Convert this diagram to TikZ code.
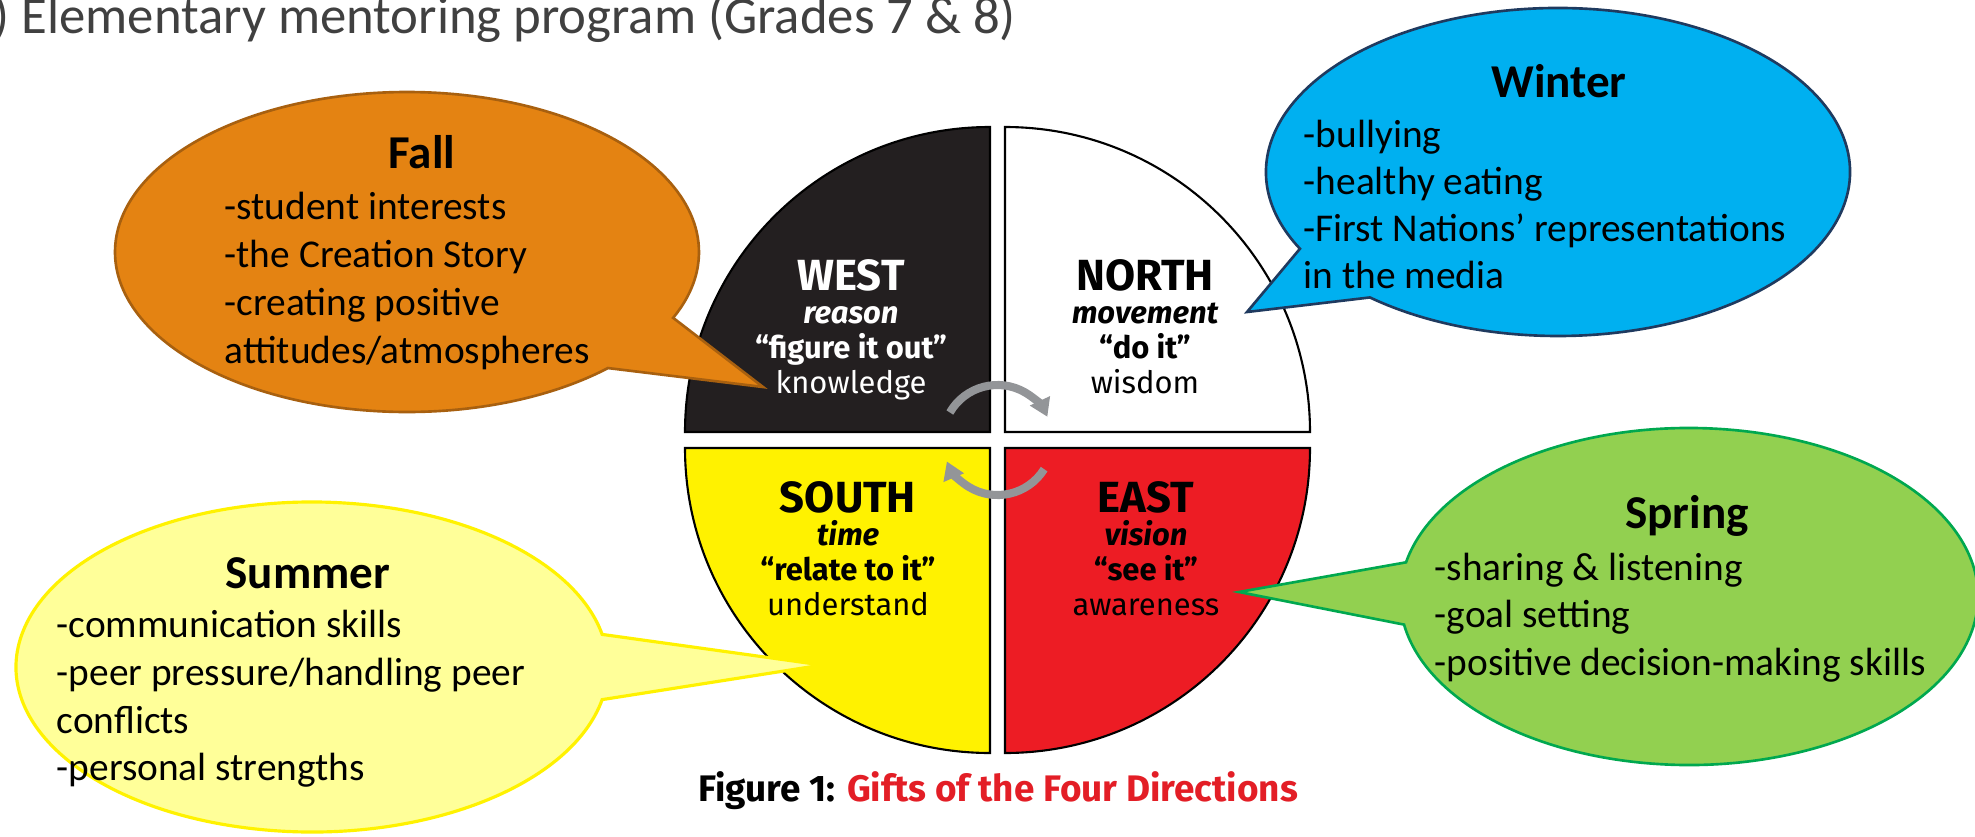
\documentclass[tikz,border=0pt]{standalone}
\usepackage{fontspec}
\setmainfont{Carlito}
\newfontfamily\qfont{Fira Sans}
\usetikzlibrary{arrows.meta}
\definecolor{fallfill}{HTML}{E48312}
\definecolor{falldraw}{HTML}{A8600F}
\definecolor{winfill}{HTML}{00B0F0}
\definecolor{windraw}{HTML}{1F3A5F}
\definecolor{sprfill}{HTML}{92D050}
\definecolor{sprdraw}{HTML}{00A84F}
\definecolor{sumfill}{HTML}{FFFF99}
\definecolor{sumdraw}{HTML}{FFF200}
\definecolor{qblack}{HTML}{231F20}
\definecolor{qred}{HTML}{ED1C24}
\definecolor{qyellow}{HTML}{FFF200}
\definecolor{arrowgray}{HTML}{939598}
\definecolor{titlegray}{HTML}{404040}
\definecolor{capred}{HTML}{E31E26}
\begin{document}
\begin{tikzpicture}[x=0.01cm, y=-0.01cm,
  quad/.style={draw=black, line width=0.6pt},
  bubble/.style={line width=0.75pt},
  body/.style={anchor=base west, inner sep=0pt, font=\fontsize{11.2}{13.5}\selectfont},
  head/.style={anchor=base, inner sep=0pt, font=\bfseries\fontsize{13.4}{16}\selectfont},
  qbig/.style={anchor=base, inner sep=0pt, font=\qfont\bfseries\fontsize{12.4}{14}\selectfont},
  qit/.style={anchor=base, inner sep=0pt, font=\qfont\bfseries\itshape\fontsize{8.8}{10}\selectfont},
  qquote/.style={anchor=base, inner sep=0pt, font=\qfont\bfseries\fontsize{8.8}{10}\selectfont},
  qreg/.style={anchor=base, inner sep=0pt, font=\qfont\fontsize{8.8}{10}\selectfont},
  garrow/.style={draw=arrowgray, line width=2.3pt, -{Triangle[width=6pt,length=5pt]}}
]
\fill[white] (0,0) rectangle (1975,836);
\useasboundingbox (0,0) rectangle (1975,836);

% title
\node[anchor=base west, inner sep=0pt, text=titlegray, font=\fontsize{15}{18}\selectfont] (title) at (-7,33) {) Elementary mentoring program (Grades 7 \& 8)};

% medicine wheel quadrants
\path[quad, fill=qblack] (990,432) -- ++(-305,0) arc[start angle=180, end angle=270, radius=305] -- cycle;
\path[quad, fill=white] (1005,432) -- ++(0,-305) arc[start angle=270, end angle=360, radius=305] -- cycle;
\path[quad, fill=qyellow] (990,448) -- ++(0,305) arc[start angle=90, end angle=180, radius=305] -- cycle;
\path[quad, fill=qred] (1005,448) -- ++(305,0) arc[start angle=0, end angle=90, radius=305] -- cycle;

% quadrant texts
\node[qbig, text=white] (west) at (851,290) {WEST};
\node[qit, text=white] (westa) at (851,323) {reason};
\node[qquote, text=white] (westb) at (851,358) {“figure it out”};
\node[qreg, text=white] (westc) at (851,393) {knowledge};

\node[qbig, text=black] (north) at (1145,290) {NORTH};
\node[qit, text=black] (northa) at (1145,323) {movement};
\node[qquote, text=black] (northb) at (1145,358) {“do it”};
\node[qreg, text=black] (northc) at (1145,393) {wisdom};

\node[qbig, text=black] (south) at (848,512) {SOUTH};
\node[qit, text=black] (southa) at (848,545) {time};
\node[qquote, text=black] (southb) at (848,580) {“relate to it”};
\node[qreg, text=black] (southc) at (848,615) {understand};

\node[qbig, text=black] (east) at (1146,512) {EAST};
\node[qit, text=black] (easta) at (1146,545) {vision};
\node[qquote, text=black] (eastb) at (1146,580) {“see it”};
\node[qreg, text=black] (eastc) at (1146,615) {awareness};

% rotation arrows
\coordinate (ctr) at (997.5,440);
\draw[garrow] ([shift={(-150:55)}]ctr) arc[start angle=-150, end angle=-25, radius=55];
\draw[garrow] ([shift={(32:55)}]ctr) arc[start angle=32, end angle=157, radius=55];

% caption
\node[anchor=base, inner sep=0pt, font=\qfont\bfseries\fontsize{10.5}{12}\selectfont] (caption) at (998,801) {Figure 1: \textcolor{capred}{Gifts of the Four Directions}};

% Fall bubble
\path[bubble, fill=fallfill, draw=falldraw] (407,252) ++(46.5:292 and 160) arc[start angle=46.5, end angle=384.3, x radius=292, y radius=160] -- (763,387) -- cycle;
\node[head] (fallh) at (422,168) {Fall};
\node[body] (fall1) at (224,219) {-student interests};
\node[body] (fall2) at (224,267) {-the Creation Story};
\node[body] (fall3) at (224,315) {-creating positive};
\node[body] (fall4) at (224,363) {attitudes/atmospheres};

% Winter bubble
\path[bubble, fill=winfill, draw=windraw] (1558,172) ++(152.1:292 and 164) arc[start angle=152.1, end angle=490.1, x radius=292, y radius=164] -- (1247,312) -- cycle;
\node[head] (winh) at (1559,97) {Winter};
\node[body] (win1) at (1303,147) {-bullying};
\node[body] (win2) at (1303,194) {-healthy eating};
\node[body] (win3) at (1303,241) {-First Nations’ representations};
\node[body] (win4) at (1303,288) {in the media};

% Spring bubble
\path[bubble, fill=sprfill, draw=sprdraw] (1689,596.5) ++(191.7:289 and 168.5) arc[start angle=191.7, end angle=530.4, x radius=289, y radius=168.5] -- (1239,592) -- cycle;
\node[head] (sprh) at (1687,528) {Spring};
\node[body] (spr1) at (1434,580) {-sharing \& listening};
\node[body] (spr2) at (1434,627) {-goal setting};
\node[body] (spr3) at (1434,675) {-positive decision-making skills};

% Summer bubble
\path[bubble, fill=sumfill, draw=sumdraw, line width=0.9pt] (312,667) ++(11.4:296 and 165) arc[start angle=11.4, end angle=348.6, x radius=296, y radius=165] -- (822,665) -- cycle;
\node[head] (sumh) at (308,588) {Summer};
\node[body] (sum1) at (56,637) {-communication skills};
\node[body] (sum2) at (56,685) {-peer pressure/handling peer};
\node[body] (sum3) at (56,733) {conflicts};
\node[body] (sum4) at (56,780) {-personal strengths};
\end{tikzpicture}
\end{document}
